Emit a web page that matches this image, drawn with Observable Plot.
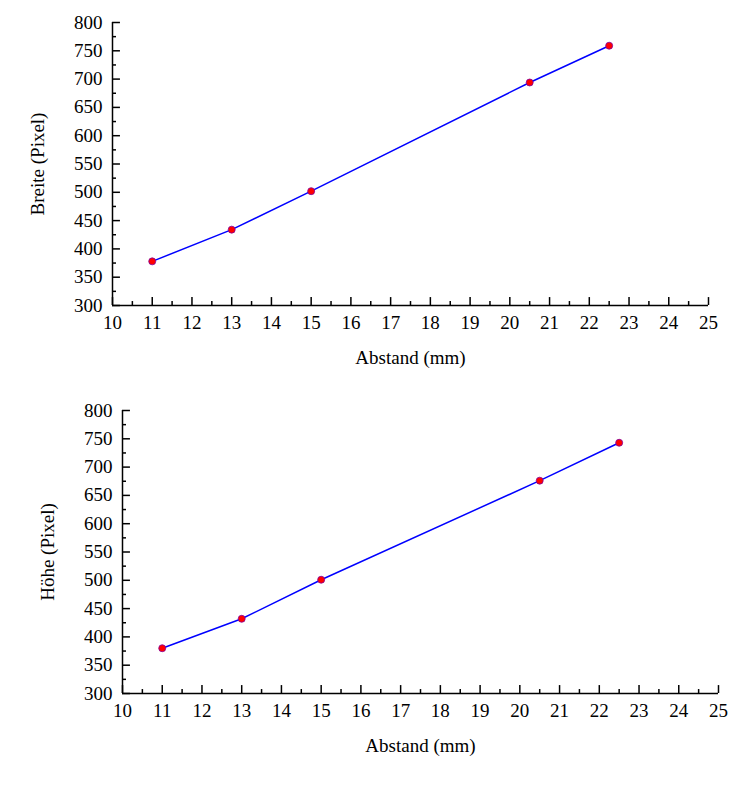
<!DOCTYPE html>
<html><head><meta charset="utf-8">
<script src="https://cdn.jsdelivr.net/npm/d3@7"></script>
<script src="https://cdn.jsdelivr.net/npm/@observablehq/plot@0.6"></script>
<style>body{margin:0;background:#fff}svg{display:block}</style>
</head><body><div id="c"></div>
<script>
const abstand = [11, 13, 15, 20.5, 22.5];
const breite = [378, 434, 502, 694, 759];
const hoehe = [380, 432, 501, 676, 743];
const xTicks = d3.range(10, 26, 1);
const xMinor = d3.range(10.5, 25, 1);
const yTicks = d3.range(300, 801, 50);
const yMinor = d3.range(325, 800, 50);

function chart(ys, ylabel, ml, mr, mt, mb, h) {
  const data = abstand.map((x, i) => ({x, y: ys[i]}));
  return Plot.plot({
    width: 740, height: h, marginLeft: ml, marginRight: mr, marginTop: mt, marginBottom: mb,
    style: {fontFamily: "Liberation Serif", fontSize: "19px", color: "#000"},
    x: {domain: [10, 25]}, y: {domain: [300, 800]},
    marks: [
      Plot.ruleY([300], {strokeWidth: 1.5}),
      Plot.ruleX([10], {strokeWidth: 1.5}),
      Plot.axisX({ticks: xTicks, tickSize: 0, tickPadding: 10, tickFormat: d => d, label: "Abstand (mm)", labelAnchor: "center", labelArrow: "none", labelOffset: 58}),
      Plot.ruleX(xTicks, {x: d => d, y1: 300, y2: 314, strokeWidth: 1.5}),
      Plot.ruleX(xMinor, {x: d => d, y1: 300, y2: 307, strokeWidth: 1.5}),
      Plot.axisY({ticks: yTicks, tickSize: 0, tickPadding: 10, label: ylabel, labelAnchor: "center", labelArrow: "none", labelOffset: 82}),
      Plot.ruleY(yTicks, {y: d => d, x1: 10, x2: 10.2, strokeWidth: 1.5}),
      Plot.ruleY(yMinor, {y: d => d, x1: 10, x2: 10.1, strokeWidth: 1.5}),
      Plot.line(data, {x: "x", y: "y", stroke: "#0000ff", strokeWidth: 1.5}),
      Plot.dot(data, {x: "x", y: "y", fill: "#ff0000", stroke: "#8000a0", strokeWidth: 0.8, r: 3.5})
    ]
  });
}
const c = document.getElementById("c");
c.append(chart(breite, "Breite (Pixel)", 112, 32, 22, 80, 385));
c.append(chart(hoehe, "Höhe (Pixel)", 122, 22, 25, 107, 415));
</script></body></html>
